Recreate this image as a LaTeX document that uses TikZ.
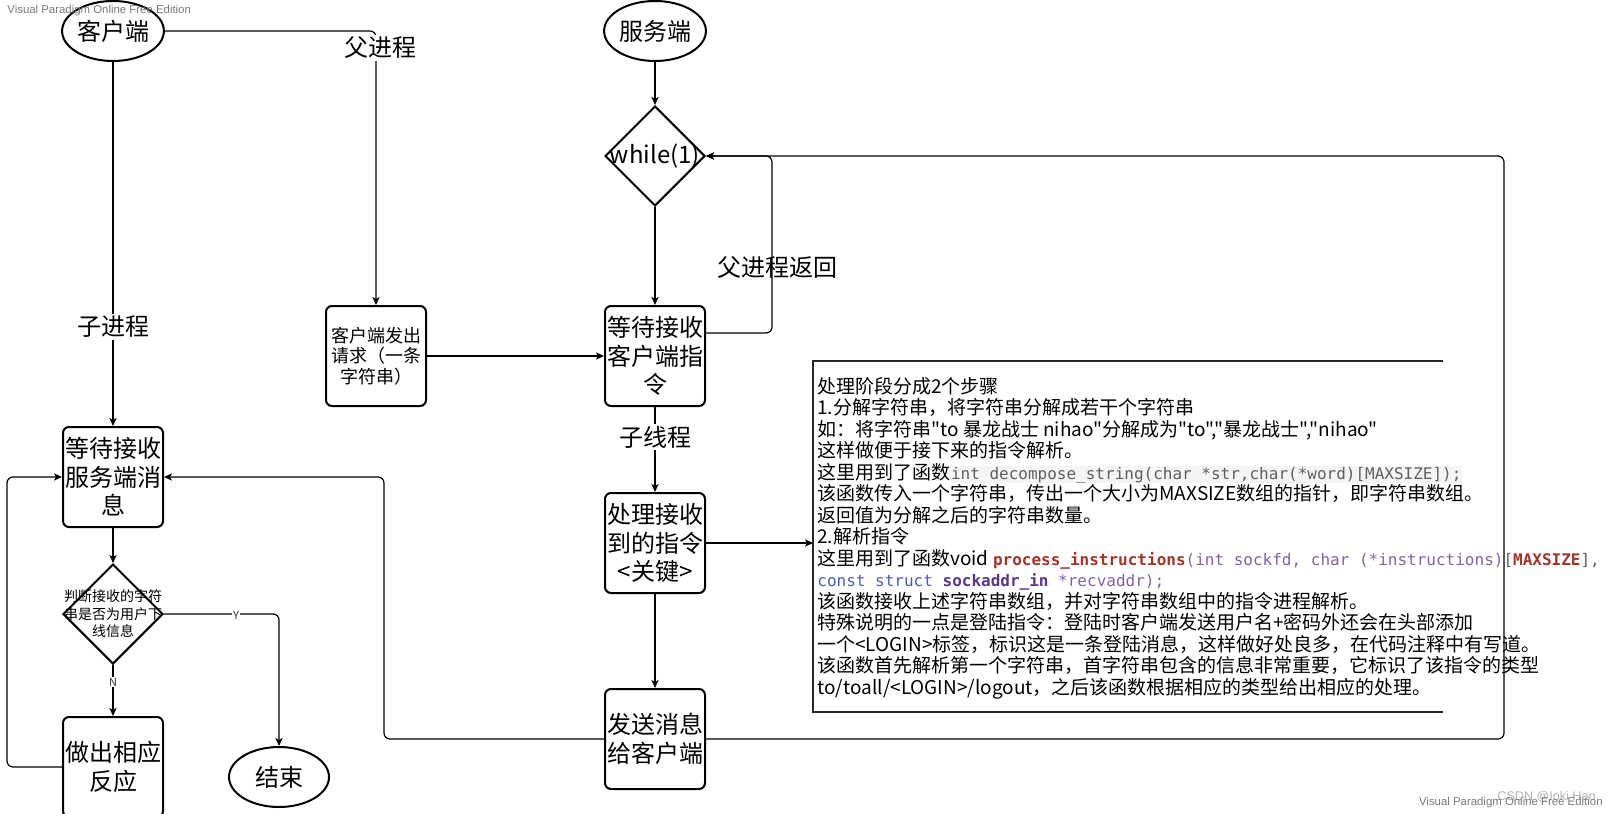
\documentclass[tikz,border=0pt]{standalone}
\usepackage{xcolor}
\usepackage{fontspec}
\setmainfont{Noto Sans CJK SC}
\newfontfamily\notesfont{Noto Sans CJK SC}
\newfontfamily\codefont{DejaVu Sans Mono}
\newfontfamily\wmfont{Liberation Sans}
\usepackage{tikz}
\usetikzlibrary{arrows.meta, positioning, shapes.geometric}

\definecolor{codered}{RGB}{163,52,40}
\definecolor{codepurple}{RGB}{128,98,168}
\definecolor{codeblue}{RGB}{72,92,186}
\definecolor{codedark}{RGB}{92,52,140}
\definecolor{codegray}{RGB}{95,95,95}
\definecolor{codebg}{RGB}{244,244,244}
\definecolor{wmgray}{RGB}{120,120,120}
\newcommand{\snip}[2]{{\color{#1}\codefont\fontsize{8pt}{10.75pt}\selectfont #2}}

\begin{document}
\begin{tikzpicture}[
  x=1pt, y=1pt,
  stepbox/.style={draw, line width=1pt, rounded corners=3pt, align=center,
                  minimum width=50pt, minimum height=50pt, inner sep=0pt,
                  font=\fontsize{12pt}{14.25pt}\selectfont},
  termnode/.style={draw, ellipse, line width=1pt, minimum width=50pt,
                   minimum height=30pt, inner sep=0pt, font=\fontsize{12pt}{14pt}\selectfont},
  cond/.style={draw, diamond, line width=1pt, minimum width=50pt,
               minimum height=50pt, inner sep=0pt},
  lbl/.style={fill=white, inner sep=1pt, font=\fontsize{12pt}{14pt}\selectfont},
  arr/.style={-{Stealth[length=4pt, width=3.6pt, inset=1pt]}, line width=0.6pt,
              rounded corners=3pt},
  node distance=30pt
]
\useasboundingbox (0,0) rectangle (804.5,-406.5);

% server column
\node[termnode] (server) at (327.5,-15.5) {服务端};
\node[cond, below=21.5pt of server] (loop) {};
\node[font=\fontsize{12pt}{14pt}\selectfont] (looptxt) at (loop) {while(1)};
\node[stepbox, below=49pt of loop] (waitcmd) {等待接收\\客户端指\\令};
\node[stepbox, below=42.5pt of waitcmd] (proc) {处理接收\\到的指令\\<关键>};
\node[stepbox, below=47pt of proc] (send) {发送消息\\给客户端};

% client column
\node[termnode] (client) at (56.5,-15.5) {客户端};
\node[stepbox, font=\fontsize{9pt}{10.25pt}\selectfont, left=88.5pt of waitcmd] (request) {客户端发出\\请求（一条\\字符串）};
\node[stepbox, below=182pt of client] (waitmsg) {等待接收\\服务端消\\息};
\node[cond, below=17.5pt of waitmsg] (check) {};
\node[font=\fontsize{7pt}{8.75pt}\selectfont, align=center, inner sep=0pt] (checktxt) at (check) {判断接收的字符\\串是否为用户下\\线信息};
\node[stepbox, below=25.5pt of check] (react) {做出相应\\反应};
\node[termnode, right=32pt of react, yshift=-5pt] (finish) {结束};

% connectors
\draw[arr] (client.east) -| (request.north);
\draw[arr] (client) -- (waitmsg);
\draw[arr] (server) -- (loop);
\draw[arr] (loop) -- (waitcmd);
\draw[arr] ([yshift=11.5pt]waitcmd.east) -- ++(33,0) |- (loop.east);
\draw[arr] (request) -- (waitcmd);
\draw[arr] (waitcmd) -- (proc);
\draw[arr] (proc) -- (send);
\draw[arr] (send.east) -- ++(399,0) |- (loop.east);
\draw[arr] (send.west) -- ++(-110,0) |- (waitmsg.east);
\draw[arr] (waitmsg) -- (check);
\draw[arr] (check) -- (react);
\draw[arr] (check.east) -| (finish.north);
\draw[arr] (react.west) -- ++(-27.5,0) |- (waitmsg.west);

% labels
\node[lbl] (forklbl) at (190,-24) {父进程};
\node[lbl] (childlbl) at (56.5,-163.5) {子进程};
\node[lbl] (threadlbl) at (327.5,-218.5) {子线程};
\node[font=\fontsize{12pt}{14pt}\selectfont] (backlbl) at (388.5,-133.5) {父进程返回};
\node[lbl, inner sep=0.5pt, font=\fontsize{5.5pt}{6pt}\selectfont, text=black!80] (ylbl) at (118,-307.5) {Y};
\node[lbl, inner sep=0.5pt, font=\fontsize{5.5pt}{6pt}\selectfont, text=black!80] (nlbl) at (56.5,-341) {N};

% notes frame
\coordinate (framenw) at (406.5,-180.5);
\coordinate (framese) at (721.5,-356);
\draw[line width=1.2pt, black!85] (framenw -| framese) -- (framenw) -- (framenw |- framese) -- (framese);
\draw[arr] (proc.east) -- (proc.east -| framenw);
\setlength{\fboxsep}{0.3pt}
\node[anchor=base west, align=left, inner sep=0pt,
      font=\notesfont\fontsize{9.5pt}{10.75pt}\selectfont] (notes) at (408.5,-347) {%
处理阶段分成2个步骤\\
1.分解字符串，将字符串分解成若干个字符串\\
如：将字符串"to 暴龙战士 nihao"分解成为"to","暴龙战士","nihao"\\
这样做便于接下来的指令解析。\\
这里用到了函数\colorbox{codebg}{\snip{codegray}{int decompose\_string(char *str,char(*word)[MAXSIZE]);}}\\
该函数传入一个字符串，传出一个大小为MAXSIZE数组的指针，即字符串数组。\\
返回值为分解之后的字符串数量。\\
2.解析指令\\
这里用到了函数void \snip{codered}{\bfseries process\_instructions}\snip{codepurple}{(int sockfd, char (*instructions)}\snip{codegray}{[}\snip{codered}{\bfseries MAXSIZE}\snip{codegray}{],}\\
\snip{codeblue}{const struct }\snip{codedark}{\bfseries sockaddr\_in}\snip{codepurple}{ *recvaddr);}\\
该函数接收上述字符串数组，并对字符串数组中的指令进程解析。\\
特殊说明的一点是登陆指令：登陆时客户端发送用户名+密码外还会在头部添加\\
一个<LOGIN>标签，标识这是一条登陆消息，这样做好处良多，在代码注释中有写道。\\
该函数首先解析第一个字符串，首字符串包含的信息非常重要，它标识了该指令的类型\\
to/toall/<LOGIN>/logout，之后该函数根据相应的类型给出相应的处理。};

% watermarks
\node[anchor=west, inner sep=0pt, text=wmgray, font=\wmfont\fontsize{5.7pt}{6pt}\selectfont] (wmtop) at (3.5,-5.5) {Visual Paradigm Online Free Edition};
\node[anchor=east, inner sep=0pt, text=black!30, font=\wmfont\fontsize{6.3pt}{7pt}\selectfont] (csdn) at (798,-398.5) {CSDN @Ioki Han};
\node[anchor=east, inner sep=0pt, text=wmgray, font=\wmfont\fontsize{5.7pt}{6pt}\selectfont] (wmbottom) at (801.5,-401.5) {Visual Paradigm Online Free Edition};
\end{tikzpicture}
\end{document}
